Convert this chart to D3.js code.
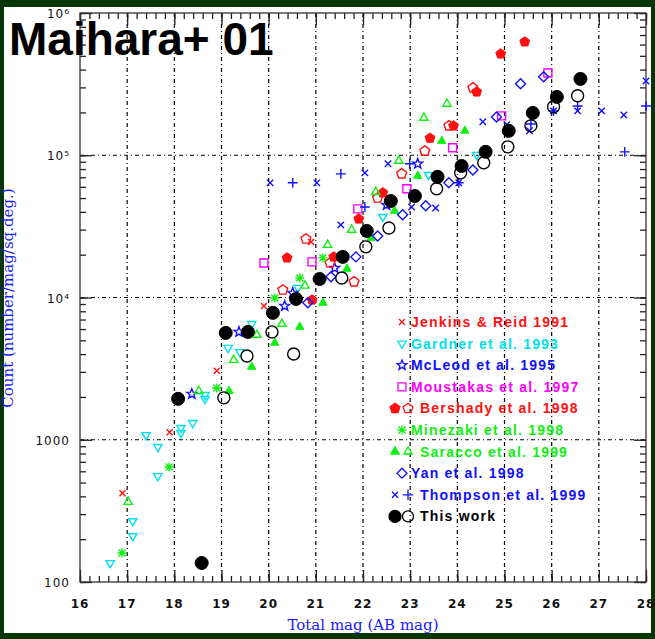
<!DOCTYPE html>
<html><head><meta charset="utf-8">
<script src="https://cdn.jsdelivr.net/npm/d3@7"></script>
<style>body{margin:0;background:#063506;}svg{display:block}</style>
</head><body>
<script>
const xTicks=[16,17,18,19,20,21,22,23,24,25,26,27,28];
const yTicks=[100,1000,1e4,1e5,1e6];
const yTickLabels=["100","1000","10\u2074","10\u2075","10\u2076"];
const jenkins=[[16.9,420],[17.9,1130],[18.9,3050],[19.9,8700],[20.9,24600]];
const gardner=[[16.64,136],[17.12,210],[17.12,268],[17.65,556],[17.65,890],[17.4,1080],[18.14,1118],[18.14,1212],[18.39,1313],[18.65,1940],[18.65,2065],[19.14,4430],[19.39,4140],[19.64,6520],[20.62,11700],[22.42,36900],[23.39,72800],[24.41,100700]];
const mcleod=[[18.37,2100],[19.37,5730],[20.34,8730],[20.51,10760],[21.4,16100],[22.5,44800],[23.16,87100]];
const moustakas=[[19.9,17500],[20.92,17800],[21.89,42000],[22.93,58100],[23.9,112800],[24.94,189000],[25.92,379000]];
const bershadyF=[[20.39,19000],[20.92,9620],[21.38,19300],[21.91,35700],[22.42,54500],[23.42,132000],[23.92,161000],[24.41,279000],[24.92,516000],[25.43,627000]];
const bershadyO=[[20.3,11300],[20.79,25800],[21.3,17500],[21.81,12900],[22.31,50100],[22.82,74000],[23.31,107000],[23.82,161000],[24.33,298000]];
const minezaki=[[16.89,160],[17.89,644],[18.9,2310],[20.13,9930],[20.66,13700],[21.15,19000]];
const saraccoF=[[19.16,2200],[19.64,3250],[20.13,4800],[20.66,6210],[21.15,9170],[21.66,15900],[22.17,26200],[22.67,40600],[23.16,71600],[23.67,126000],[24.16,148600]];
const saraccoO=[[17.02,365],[18.52,2200],[19.26,3640],[19.75,5460],[20.28,6520],[20.77,12100],[21.25,23400],[21.76,29900],[22.27,55300],[22.76,91400],[23.29,183000],[23.78,230000]];
const yan=[[20.83,9170],[21.32,14000],[21.85,19300],[22.31,27100],[22.84,38100],[23.33,44100],[23.82,64000],[24.33,78900],[24.83,186000],[25.34,318000],[25.83,356000]];
const thompsonX=[[20.03,64000],[21.02,64000],[21.53,32400],[22.04,75200],[22.53,87100],[23.03,43300],[23.54,42600],[24.03,64000],[24.54,172000],[25.05,164000],[25.53,148600],[26.04,205000],[26.55,205000],[27.06,205000],[27.53,192000],[28.0,333000]];
const thompsonP=[[20.51,64000],[21.53,74000],[22.04,43300],[22.99,87100],[24.03,64000],[25.05,143900],[25.56,166000],[26.04,205000],[26.55,222000],[27.55,105700],[28.0,222000]];
const thisF=[[18.08,1940],[18.58,136],[19.09,5640],[19.56,5730],[20.09,7800],[20.58,9770],[21.08,13500],[21.57,19300],[22.08,29400],[22.59,47700],[23.1,51700],[23.58,70500],[24.09,84100],[24.6,105700],[25.09,148600],[25.6,198500],[26.11,257000],[26.61,344000]];
const thisO=[[19.05,1970],[19.54,3880],[20.07,5730],[20.53,4010],[21.55,13700],[22.06,22700],[22.55,30800],[23.56,58100],[24.07,75200],[24.56,88500],[25.07,114600],[25.56,161000],[26.04,219000],[26.55,262000]];
const legendNames=["Jenkins & Reid 1991","Gardner et al. 1993","McLeod et al. 1995","Moustakas et al. 1997","Bershady et al. 1998","Minezaki et al. 1998","Saracco et al. 1999","Yan et al. 1998","Thompson et al. 1999","This work"];

const W=655,H=639,L=80,R=646,T=13,B=582;
const svg=d3.select("body").append("svg").attr("width",W).attr("height",H);
svg.append("rect").attr("x",4).attr("y",7).attr("width",647).attr("height",626).attr("fill","#fff");
const x=d3.scaleLinear().domain([16,28]).range([L,R]);
const y=d3.scaleLog().domain([100,1e6]).range([B,T]);
const g=svg.append("g");
const dash="4,3,1,3";
xTicks.slice(1,-1).forEach(v=>g.append("line").attr("x1",x(v)).attr("x2",x(v)).attr("y1",T).attr("y2",B).attr("stroke","#000").attr("stroke-width",1.2).attr("stroke-dasharray",dash));
yTicks.slice(1,-1).forEach(v=>g.append("line").attr("x1",L).attr("x2",R).attr("y1",y(v)).attr("y2",y(v)).attr("stroke","#000").attr("stroke-width",1.2).attr("stroke-dasharray",dash));
const minorX=d3.range(16,28.01,0.2).map(v=>+v.toFixed(1));
const minorY=[];[100,1000,1e4,1e5].forEach(d=>{for(let k=1;k<10;k++)minorY.push(d*k)});minorY.push(1e6);
const ax=(gen,tr)=>{const a=g.append("g").attr("transform",tr).call(gen);a.select(".domain").remove();a.selectAll("line").attr("stroke","#222").attr("stroke-width",1.3);a.selectAll("text").remove();};
ax(d3.axisBottom(x).tickValues(minorX).tickSize(-6),`translate(0,${B})`);
ax(d3.axisBottom(x).tickValues(xTicks).tickSize(-12),`translate(0,${B})`);
ax(d3.axisTop(x).tickValues(minorX).tickSize(-6),`translate(0,${T})`);
ax(d3.axisTop(x).tickValues(xTicks).tickSize(-12),`translate(0,${T})`);
ax(d3.axisLeft(y).tickValues(minorY).tickSize(-6),`translate(${L},0)`);
ax(d3.axisLeft(y).tickValues(yTicks).tickSize(-12),`translate(${L},0)`);
ax(d3.axisRight(y).tickValues(minorY).tickSize(-6),`translate(${R},0)`);
ax(d3.axisRight(y).tickValues(yTicks).tickSize(-12),`translate(${R},0)`);
g.append("rect").attr("x",L).attr("y",T).attr("width",R-L).attr("height",B-T).attr("fill","none").attr("stroke","#333").attr("stroke-width",1.3);
const lf="'DejaVu Sans',sans-serif";
xTicks.forEach(v=>g.append("text").attr("x",x(v)).attr("y",608).attr("text-anchor","middle").attr("font-family",lf).attr("font-size",12).attr("font-weight","bold").attr("letter-spacing",1).attr("fill","#111").text(v));
yTicks.forEach((v,i)=>g.append("text").attr("x",70).attr("y",y(v)+5).attr("text-anchor","end").attr("font-family",lf).attr("font-size",12).attr("letter-spacing",1).attr("fill","#111").text(yTickLabels[i]));
svg.append("text").attr("x",363).attr("y",630).attr("text-anchor","middle").attr("font-family","'DejaVu Serif',serif").attr("font-size",15).attr("fill","#1a1aff").text("Total mag (AB mag)");
svg.append("text").attr("transform","translate(13,298) rotate(-90)").attr("text-anchor","middle").attr("font-family","'DejaVu Serif',serif").attr("font-size",15).attr("fill","#1a1aff").text("Count (number/mag/sq.deg.)");
function shape(type,s){
  const pts=(n,r,rot)=>d3.range(n).map(i=>{const a=rot+i*2*Math.PI/n;return [r*Math.cos(a),r*Math.sin(a)]});
  const poly=p=>"M"+p.map(q=>q.join(",")).join("L")+"Z";
  switch(type){
    case "x":return `M${-s},${-s}L${s},${s}M${-s},${s}L${s},${-s}`;
    case "+":return `M${-s*1.3},0L${s*1.3},0M0,${-s*1.3}L0,${s*1.3}`;
    case "ast":return `M${-s*1.3},0L${s*1.3},0M0,${-s*1.3}L0,${s*1.3}M${-s},${-s}L${s},${s}M${-s},${s}L${s},${-s}`;
    case "tridown":return poly(pts(3,s*1.2,Math.PI/2));
    case "triup":return poly(pts(3,s*1.2,-Math.PI/2));
    case "square":return `M${-s},${-s}H${s}V${s}H${-s}Z`;
    case "diamond":return poly(pts(4,s*1.25,0));
    case "pent":return poly(pts(5,s*1.15,-Math.PI/2));
    case "star":{const p=[];for(let i=0;i<10;i++){const r=i%2?s*0.55:s*1.3,a=-Math.PI/2+i*Math.PI/5;p.push([r*Math.cos(a),r*Math.sin(a)])}return poly(p);}
    case "circle":return `M${s},0A${s},${s} 0 1,1 ${-s},0A${s},${s} 0 1,1 ${s},0Z`;
  }
}
const RED="#ff1010",CY="#00e0f0",BL="#1010ff",MG="#ff00ff",GR="#10f010";
const series=[
 [jenkins,"x",RED,false,3],[gardner,"tridown",CY,false,4],[mcleod,"star",BL,false,4],[moustakas,"square",MG,false,4],
 [bershadyO,"pent",RED,false,4.5],[bershadyF,"pent",RED,true,4.5],[minezaki,"ast",GR,false,3.5],[saraccoO,"triup",GR,false,4],[saraccoF,"triup",GR,true,4],
 [yan,"diamond",BL,false,4],[thompsonX,"x",BL,false,3.2],[thompsonP,"+",BL,false,3.8],[thisO,"circle","#000",false,6],[thisF,"circle","#000",true,6.5]];
const pg=svg.append("g");
series.forEach(([data,t,c,f,s])=>{
  pg.selectAll(null).data(data).enter().append("path").attr("transform",d=>`translate(${x(d[0])},${y(d[1])})`)
   .attr("d",shape(t,s)).attr("fill",f?c:"none").attr("stroke",c).attr("stroke-width",f?1:1.4);
});
const lg=svg.append("g");
const rows=[[["x",RED,false,3]],[["tridown",CY,false,4]],[["star",BL,false,4]],[["square",MG,false,4]],[["pent",RED,true,4.5],["pent",RED,false,4.5]],[["ast",GR,false,3.5]],[["triup",GR,true,4],["triup",GR,false,4]],[["diamond",BL,false,4]],[["x",BL,false,3],["+",BL,false,4]],[["circle","#000",true,6],["circle","#000",false,5.5]]];
const cols=[RED,CY,BL,MG,RED,GR,GR,BL,BL,"#000"];
legendNames.forEach((n,i)=>{
  const yy=326+i*21.6; const two=rows[i].length>1;
  rows[i].forEach((m,j)=>{const xx=two?(j?408:395):402;
    lg.append("path").attr("transform",`translate(${xx},${yy-4})`).attr("d",shape(m[0],m[3])).attr("fill",m[2]?m[1]:"none").attr("stroke",m[1]).attr("stroke-width",1.3);});
  lg.append("text").attr("x",two?420:411).attr("y",yy+1).attr("font-family","'Liberation Sans',sans-serif").attr("font-size",14).attr("font-weight","bold").attr("letter-spacing",1.2).attr("fill",cols[i]).text(n);
});
svg.append("text").attr("x",9).attr("y",55).attr("font-family","'Liberation Sans',Arial,sans-serif").attr("font-size",46).attr("font-weight","bold").attr("fill","#000").text("Maihara+ 01");
</script></body></html>
